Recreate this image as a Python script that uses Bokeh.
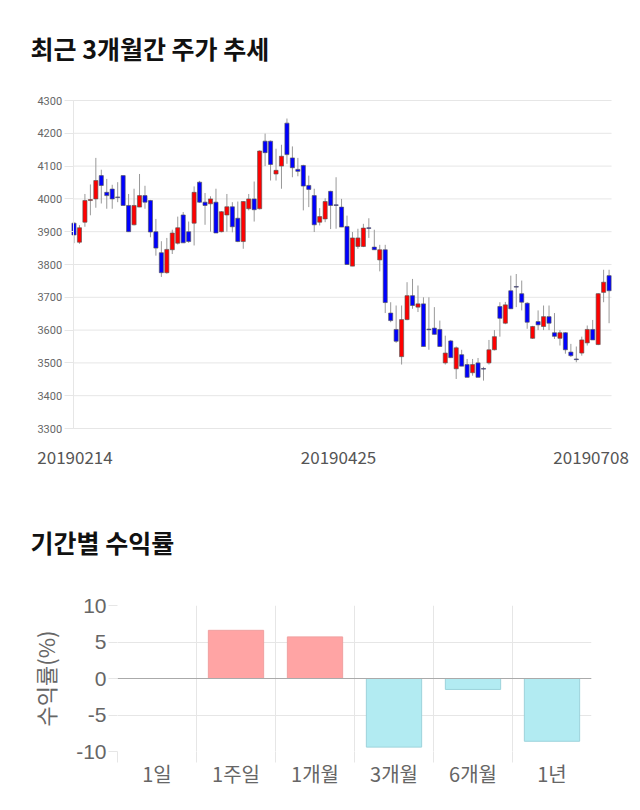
from bokeh.plotting import figure
from bokeh.models import ColumnDataSource, FixedTicker, Range1d, Span
from bokeh.core.properties import value
from bokeh.embed import file_html
from bokeh.resources import INLINE

# ---------------- data ----------------
opens = [3926, 3868, 3929, 3995, 4000, 4071, 4020, 4030, 4006, 4071,
         3980, 3921, 3975, 4010, 3995, 3900, 3836, 3775, 3845, 3865,
         3951, 3900, 3926, 4051, 3990, 3985, 3990, 3900, 3951, 3976,
         3941, 3870, 3970, 4000, 3970, 4176, 4176, 4076, 4100, 4231,
         4125, 4090, 4102, 4041, 4010, 3929, 3939, 4023, 3982, 3975,
         3916, 3795, 3855, 3855, 3912, 3853, 3814, 3845, 3652, 3602,
         3519, 3632, 3705, 3670, 3680, 3603, 3606, 3602, 3500, 3567,
         3482, 3525, 3495, 3470, 3500, 3483, 3500, 3540, 3672, 3621,
         3720, 3733, 3711, 3682, 3575, 3626, 3611, 3641, 3592, 3575,
         3592, 3533, 3512, 3530, 3561, 3602, 3556, 3715, 3766]
highs = [3929, 3920, 4015, 4044, 4125, 4089, 4061, 4043, 4051, 4071,
         4015, 4031, 4076, 4040, 3997, 3939, 3871, 3881, 3906, 3946,
         3960, 3931, 4038, 4055, 4018, 4008, 4031, 3963, 4015, 3990,
         3992, 3993, 4015, 4053, 4148, 4199, 4178, 4153, 4165, 4245,
         4160, 4125, 4104, 4071, 4031, 3972, 4002, 4025, 4066, 4000,
         3949, 3899, 3909, 3924, 3941, 3906, 3860, 3860, 3685, 3675,
         3675, 3746, 3756, 3736, 3700, 3700, 3670, 3629, 3583, 3570,
         3550, 3540, 3512, 3512, 3515, 3488, 3570, 3600, 3685, 3686,
         3766, 3771, 3751, 3685, 3613, 3660, 3675, 3675, 3652, 3600,
         3594, 3558, 3550, 3580, 3614, 3631, 3713, 3784, 3784]
lows = [3865, 3863, 3915, 3950, 3973, 3986, 3970, 3970, 3990, 3980,
        3899, 3919, 3975, 3970, 3883, 3827, 3762, 3772, 3832, 3861,
        3866, 3866, 3858, 3988, 3921, 3900, 3896, 3898, 3900, 3898,
        3868, 3848, 3965, 3931, 3968, 4100, 4056, 4056, 4031, 4107,
        4066, 4069, 3965, 3975, 3899, 3919, 3929, 3908, 3909, 3914,
        3799, 3795, 3848, 3853, 3881, 3845, 3779, 3652, 3624, 3561,
        3495, 3630, 3665, 3655, 3550, 3540, 3587, 3550, 3495, 3515,
        3451, 3490, 3456, 3461, 3456, 3446, 3495, 3538, 3580, 3618,
        3665, 3670, 3660, 3604, 3573, 3600, 3600, 3600, 3573, 3553,
        3528, 3518, 3502, 3522, 3553, 3570, 3554, 3685, 3621]
closes = [3890, 3912, 3995, 3998, 4056, 4041, 4010, 4000, 4004, 3980,
          3900, 3980, 4010, 3990, 3899, 3850, 3775, 3846, 3896, 3912,
          3866, 3870, 4020, 3990, 3980, 4000, 3896, 3961, 3976, 3915,
          3870, 3992, 4000, 3967, 4146, 4141, 4105, 4087, 4130, 4135,
          4095, 4084, 4039, 4029, 3921, 3946, 3992, 3980, 3980, 3914,
          3800, 3881, 3881, 3911, 3910, 3845, 3845, 3684, 3629, 3566,
          3632, 3705, 3675, 3680, 3550, 3601, 3587, 3550, 3530, 3516,
          3546, 3490, 3456, 3495, 3456, 3481, 3540, 3580, 3636, 3677,
          3665, 3731, 3685, 3624, 3611, 3616, 3641, 3621, 3581, 3592,
          3540, 3522, 3510, 3570, 3602, 3570, 3711, 3746, 3720]

date_tick_index = [0, 49, 98]
date_tick_labels = ["20190214", "20190425", "20190708"]
price_ticks = [3300, 3400, 3500, 3600, 3700, 3800, 3900, 4000, 4100, 4200, 4300]

periods = ["1일", "1주일", "1개월", "3개월", "6개월", "1년"]
returns = [0.0, 6.6, 5.7, -9.4, -1.5, -8.6]
return_ticks = [-10, -5, 0, 5, 10]

# ---------------- styles ----------------
UP, DOWN = "#FF0000", "#0000FF"
GRID = "#E6E6E6"
KFONT = "Noto Sans CJK KR"

# ---------------- candlestick chart ----------------
n = len(opens)
idx = list(range(n))
csrc = ColumnDataSource(dict(
    x=idx, high=highs, low=lows,
    top=[max(o, c) for o, c in zip(opens, closes)],
    bottom=[min(o, c) for o, c in zip(opens, closes)],
    color=[UP if c >= o else DOWN for o, c in zip(opens, closes)],
))

# the frame covers the whole canvas under the title; the price axis is pinned
# just left of the first candle so the date labels can overhang it freely
H1 = 473
px_per_day = 5.46
units_per_px = 100 / 32.8
x_lo = -73.5 / px_per_day
x_hi = x_lo + 640 / px_per_day
axis_x = -0.15
plot_right = (n - 1) + 0.45
y_hi = price_ticks[-1] + 10 * units_per_px
y_lo = price_ticks[0] - (H1 - 428) * units_per_px

p1 = figure(width=640, height=H1, output_backend="svg", toolbar_location=None,
            x_range=Range1d(x_lo, x_hi), y_range=Range1d(y_lo, y_hi),
            min_border_left=0, min_border_right=0, min_border_top=90,
            min_border_bottom=0, title="최근 3개월간 주가 추세")
p1.title.text_font = KFONT
p1.title.text_font_size = "25px"
p1.title.text_font_style = "bold"
p1.title.text_color = "#111111"
p1.title.align = "left"
p1.title.offset = 30
p1.title.standoff = 50
p1.outline_line_color = None

# horizontal grid lines at the price ticks, from the axis to the last candle
p1.segment(x0=axis_x, x1=plot_right, y0=price_ticks, y1=price_ticks,
           line_color=GRID, line_width=1)

p1.segment(x0="x", x1="x", y0="low", y1="high", source=csrc, line_color="#999999", line_width=1)
p1.vbar(x="x", top="top", bottom="bottom", width=0.75, source=csrc,
        fill_color="color", line_color="#555555", line_alpha=0.8, line_width=0.8)

p1.xaxis.visible = False
p1.xgrid.visible = False
p1.ygrid.visible = False
p1.yaxis.fixed_location = axis_x
p1.yaxis.ticker = FixedTicker(ticks=price_ticks)
p1.yaxis.bounds = (price_ticks[0], price_ticks[-1])
p1.yaxis.axis_line_color = GRID
p1.yaxis.major_tick_line_color = GRID
p1.yaxis.major_tick_out = 9
p1.yaxis.major_tick_in = 0
p1.yaxis.minor_tick_line_color = None
p1.yaxis.major_label_text_font = "Roboto"
p1.yaxis.major_label_text_font_size = "11px"
p1.yaxis.major_label_text_color = "#666666"
p1.yaxis.major_label_standoff = 2

lsrc = ColumnDataSource(dict(x=date_tick_index, y=[price_ticks[0]] * len(date_tick_index),
                             text=date_tick_labels, xoff=[1, -3, -18]))
p1.text(x="x", y="y", text="text", source=lsrc, x_offset="xoff", y_offset=22,
        text_align="center", text_baseline="top", text_font=value(KFONT),
        text_font_size="17px", text_color="#555555")

# ---------------- returns bar chart ----------------
centers = [i + 0.5 for i in range(len(periods))]
bsrc = ColumnDataSource(dict(
    x=centers, top=returns,
    fill=["#FFA4A4" if r >= 0 else "#B2EBF2" for r in returns],
    line=["#F0A0A0" if r >= 0 else "#9CD3DB" for r in returns],
))

H2 = 810 - H1
p2 = figure(width=640, height=H2, output_backend="svg", toolbar_location=None,
            x_range=Range1d(0, 6), y_range=Range1d(-10, 10),
            min_border_left=117, min_border_right=49, min_border_top=132,
            min_border_bottom=H2 - 132 - 146, title="기간별 수익률")
p2.title.text_font = KFONT
p2.title.text_font_size = "25px"
p2.title.text_font_style = "bold"
p2.title.text_color = "#111111"
p2.title.align = "left"
p2.title.offset = -87
p2.title.standoff = 92
p2.outline_line_color = None

p2.vbar(x="x", top="top", bottom=0, width=0.7, source=bsrc,
        fill_color="fill", line_color="line", line_width=1)
p2.add_layout(Span(location=0, dimension="width", line_color="#AAAAAA", line_width=1))

p2.ygrid.ticker = FixedTicker(ticks=return_ticks)
p2.ygrid.grid_line_color = GRID
p2.xgrid.ticker = FixedTicker(ticks=list(range(len(periods))))
p2.xgrid.grid_line_color = GRID

p2.yaxis.ticker = FixedTicker(ticks=return_ticks)
p2.yaxis.major_label_overrides = {t: str(t) for t in return_ticks}
p2.yaxis.axis_line_color = None
p2.yaxis.major_tick_line_color = GRID
p2.yaxis.major_tick_out = 9
p2.yaxis.major_tick_in = 0
p2.yaxis.minor_tick_line_color = None
p2.yaxis.major_label_text_font = "Liberation Sans"
p2.yaxis.major_label_text_font_size = "21px"
p2.yaxis.major_label_text_color = "#666666"
p2.yaxis.major_label_standoff = 2
p2.yaxis.axis_label = "수익률(%)"
p2.yaxis.axis_label_text_font = KFONT
p2.yaxis.axis_label_text_font_size = "22px"
p2.yaxis.axis_label_text_font_style = "normal"
p2.yaxis.axis_label_text_color = "#666666"
p2.yaxis.axis_label_standoff = 12

p2.xaxis.ticker = FixedTicker(ticks=centers, minor_ticks=list(range(len(periods))))
p2.xaxis.major_label_overrides = {c: lab for c, lab in zip(centers, periods)}
p2.xaxis.axis_line_color = None
p2.xaxis.major_tick_line_color = None
p2.xaxis.major_tick_out = 0
p2.xaxis.major_tick_in = 0
p2.xaxis.minor_tick_line_color = GRID
p2.xaxis.minor_tick_out = 11
p2.xaxis.minor_tick_in = 0
p2.xaxis.major_label_standoff = -4
p2.xaxis.major_label_text_font = KFONT
p2.xaxis.major_label_text_font_size = "20px"
p2.xaxis.major_label_text_color = "#666666"

open("out.html", "w").write(file_html([p1, p2], INLINE))
